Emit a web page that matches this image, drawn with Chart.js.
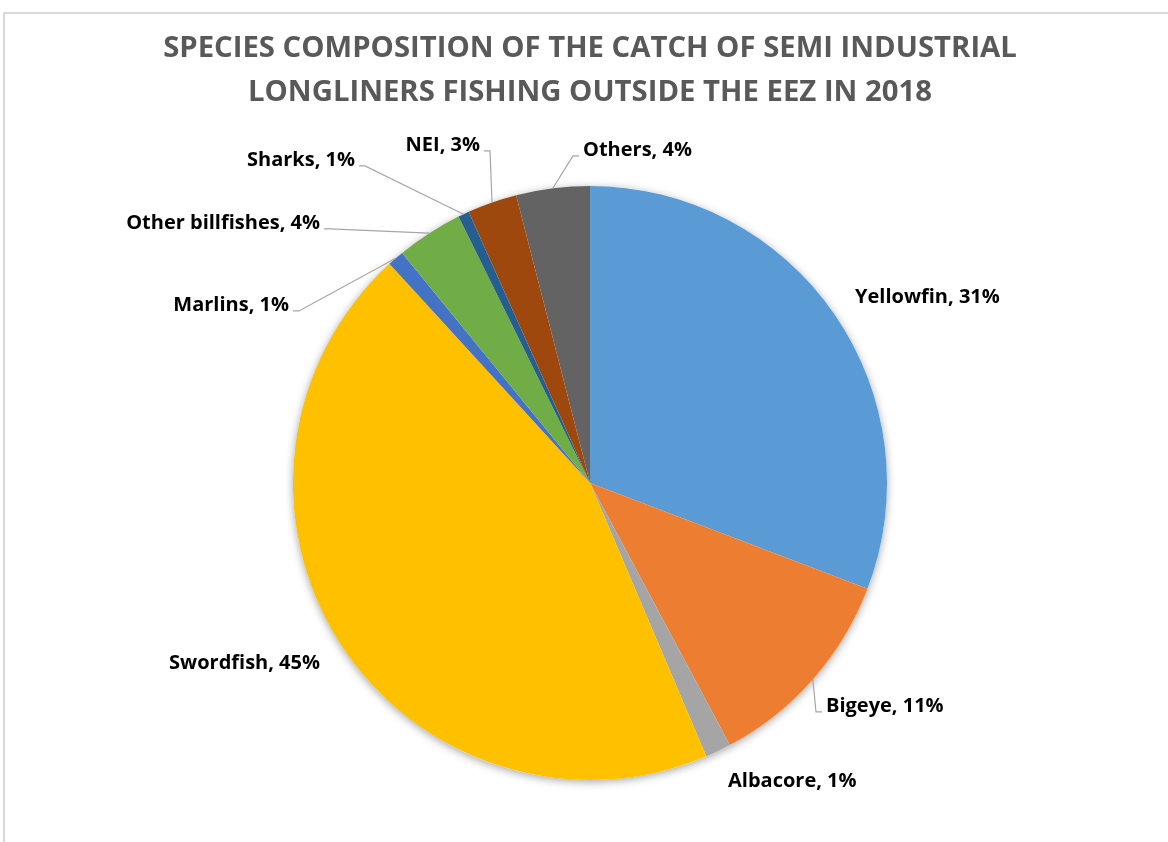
<!DOCTYPE html>
<html>
<head>
<meta charset="utf-8">
<title>Species composition of the catch</title>
<script src="https://cdn.jsdelivr.net/npm/chart.js@4/dist/chart.umd.min.js"></script>
<style>
    html, body { margin: 0; padding: 0; background: #fff; overflow: hidden; }
    #frame { position: absolute; left: 3px; top: 12px; width: 1200px; height: 900px; border: 2px solid #d9d9d9; }
    #wrap { position: absolute; left: 0; top: 0; width: 1168px; height: 842px; }
</style>
</head>
<body>
<div id="frame"></div>
<div id="wrap"><canvas id="chart-species"></canvas></div>
<script>
// --- Data (share of catch, %) ---
const species = ['Yellowfin', 'Bigeye', 'Albacore', 'Swordfish', 'Marlins', 'Other billfishes', 'Sharks', 'NEI', 'Others'];
const shares = [30.8, 11.4, 1.4, 44.6, 0.9, 3.6, 0.6, 2.7, 4.0];
const sliceColors = ['#5b9bd5', '#ed7d31', '#a5a5a5', '#ffc000', '#4472c4', '#70ad47', '#255e91', '#9e480e', '#636363'];
const titleLines = ['SPECIES COMPOSITION OF THE CATCH OF SEMI INDUSTRIAL', 'LONGLINERS FISHING OUTSIDE THE EEZ IN 2018'];

// Label placement relative to pie centre: [dx, dy, align, leader]
const labelLayout = [
    [265, -186, 'left', false],
    [236, 223, 'left', true],
    [138, 298, 'left', false],
    [-270, 180, 'right', false],
    [-301, -178, 'right', true],
    [-270, -260, 'right', true],
    [-235, -323, 'right', true],
    [-110, -338, 'right', true],
    [-7, -333, 'left', true],
];

const fontFamily = "'Open Sans', Lato, sans-serif";
const labelFont = `bold 20px ${fontFamily}`;

// soft drop shadow under the pie
const pieShadow = {
    id: 'pieShadow',
    beforeDatasetsDraw(chart) {
        const arc = chart.getDatasetMeta(0).data[0];
        if (!arc) return;
        const ctx = chart.ctx;
        ctx.save();
        ctx.shadowColor = 'rgba(0,0,0,0.35)';
        ctx.shadowBlur = 9;
        ctx.shadowOffsetY = 2;
        ctx.beginPath();
        ctx.arc(arc.x, arc.y, arc.outerRadius, 0, Math.PI * 2);
        ctx.fillStyle = '#fff';
        ctx.fill();
        ctx.restore();
    }
};

// outside labels with leader lines
const outsideLabels = {
    id: 'outsideLabels',
    afterDatasetsDraw(chart) {
        const ctx = chart.ctx;
        const meta = chart.getDatasetMeta(0);
        const total = shares.reduce((a, b) => a + b, 0);
        ctx.save();
        ctx.font = labelFont;
        ctx.textBaseline = 'middle';
        meta.data.forEach((arc, i) => {
            const [dx, dy, align, leader] = labelLayout[i];
            const tx = arc.x + dx;
            const ty = arc.y + dy;
            const text = `${species[i]}, ${Math.round(shares[i] / total * 100)}%`;
            ctx.textAlign = align;
            ctx.fillStyle = '#000';
            ctx.fillText(text, tx, ty);

            if (leader) {
                const mid = (arc.startAngle + arc.endAngle) / 2;
                const ex = arc.x + Math.cos(mid) * arc.outerRadius;
                const ey = arc.y + Math.sin(mid) * arc.outerRadius;
                const sx = align === 'left' ? tx - 4 : tx + 4;
                const step = align === 'left' ? -6 : 6;
                ctx.beginPath();
                ctx.moveTo(sx, ty + 6);
                ctx.lineTo(sx + step, ty + 6);
                ctx.lineTo(ex, ey);
                ctx.strokeStyle = '#a6a6a6';
                ctx.lineWidth = 1.2;
                ctx.stroke();
            }
        });
        ctx.restore();
    }
};

new Chart(document.getElementById('chart-species'), {
    type: 'pie',
    data: {
        labels: species,
        datasets: [{
            data: shares,
            backgroundColor: sliceColors,
            borderWidth: 0,
        }]
    },
    options: {
        responsive: true,
        maintainAspectRatio: false,
        animation: false,
        layout: { padding: { top: 0, bottom: 62, left: 62, right: 50 } },
        plugins: {
            legend: { display: false },
            tooltip: { enabled: false },
            title: {
                display: true,
                text: titleLines,
                color: '#595959',
                font: { size: 29.3, weight: 'bold', family: fontFamily, lineHeight: 1.5 },
                padding: { top: 27, bottom: 71 },
            }
        }
    },
    plugins: [pieShadow, outsideLabels]
});
</script>
</body>
</html>
